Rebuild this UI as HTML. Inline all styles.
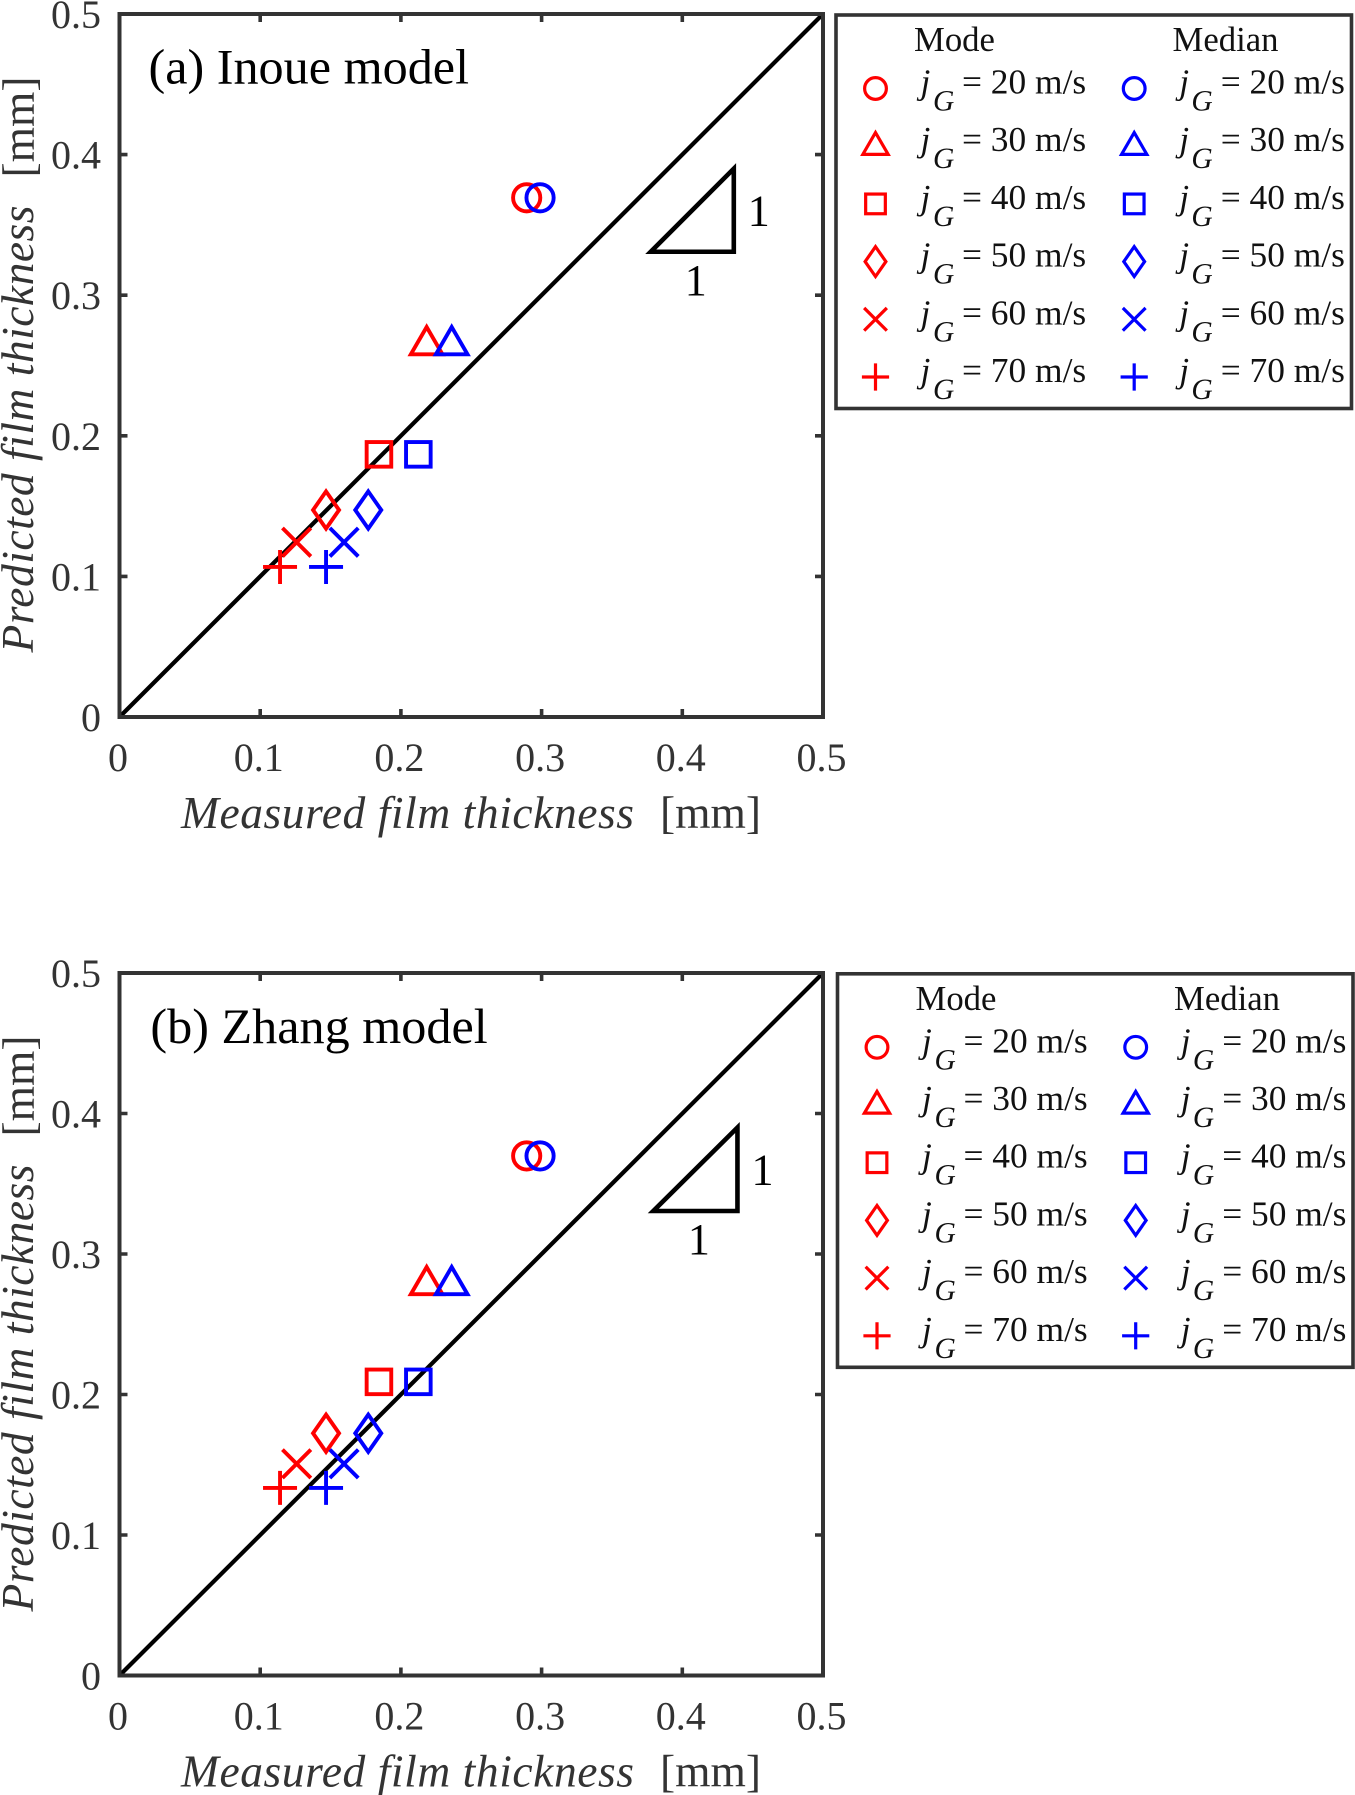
<!DOCTYPE html>
<html lang="en">
<head>
<meta charset="utf-8">
<title>Predicted vs measured film thickness</title>
<style>
html,body{margin:0;padding:0;background:#fff;}
svg{display:block;font-family:"Liberation Serif",serif;}
</style>
</head>
<body>
<svg id="figure" width="1355" height="1795" viewBox="0 0 1355 1795" xmlns="http://www.w3.org/2000/svg"></svg>
<script>
// ---- chart data ----
const categories = [20, 30, 40, 50, 60, 70];
const shapes = ['circle', 'triangle', 'square', 'diamond', 'cross', 'plus'];
const modeMeasured = [0.2894, 0.2183, 0.1844, 0.1468, 0.1259, 0.1141];
const medianMeasured = [0.2989, 0.2361, 0.2124, 0.1768, 0.1596, 0.1468];
const inouePredicted = [0.3693, 0.2688, 0.1868, 0.1472, 0.1243, 0.1067];
const zhangPredicted = [0.3698, 0.2822, 0.2090, 0.1724, 0.1507, 0.1335];
const tickValues = [0, 0.1, 0.2, 0.3, 0.4, 0.5];
const tickLabels = ['0', '0.1', '0.2', '0.3', '0.4', '0.5'];
const slopeXInoue = [0.3776, 0.4366];
const slopeYInoue = [0.3309, 0.39];
const slopeXZhang = [0.3794, 0.4392];
const slopeYZhang = [0.3306, 0.39];

const NS = 'http://www.w3.org/2000/svg';
const root = document.getElementById('figure');
const AXIS_COLOR = '#333333';

function el(tag, attrs, parent, text) {
  const node = document.createElementNS(NS, tag);
  for (const k in attrs) node.setAttribute(k, attrs[k]);
  if (text !== undefined) node.textContent = text;
  parent.appendChild(node);
  return node;
}

function marker(parent, shape, cx, cy, s, color, sw) {
  const common = {fill: 'none', stroke: color, 'stroke-width': sw};
  let node;
  if (shape === 'circle') {
    node = el('circle', Object.assign({cx: cx, cy: cy, r: 13.6 * s}, common), parent);
  } else if (shape === 'triangle') {
    const hw = 15.8 * s;
    const d = 'M' + (cx - hw) + ' ' + (cy + 15.2 * s) + 'L' + (cx + hw) + ' ' + (cy + 15.2 * s) + 'L' + cx + ' ' + (cy - 12 * s) + 'Z';
    node = el('path', Object.assign({d: d}, common), parent);
  } else if (shape === 'square') {
    const h = 12.3 * s;
    node = el('rect', Object.assign({x: cx - h, y: cy - h, width: 2 * h, height: 2 * h}, common), parent);
  } else if (shape === 'diamond') {
    const w = 13 * s, h = 18.6 * s;
    const d = 'M' + cx + ' ' + (cy - h) + 'L' + (cx + w) + ' ' + cy + 'L' + cx + ' ' + (cy + h) + 'L' + (cx - w) + ' ' + cy + 'Z';
    node = el('path', Object.assign({d: d}, common), parent);
  } else if (shape === 'cross') {
    const h = 14.2 * s;
    const d = 'M' + (cx - h) + ' ' + (cy - h) + 'L' + (cx + h) + ' ' + (cy + h) + 'M' + (cx - h) + ' ' + (cy + h) + 'L' + (cx + h) + ' ' + (cy - h);
    node = el('path', Object.assign({d: d}, common), parent);
  } else {
    const h = 17 * s;
    const d = 'M' + (cx - h) + ' ' + cy + 'L' + (cx + h) + ' ' + cy + 'M' + cx + ' ' + (cy - h) + 'L' + cx + ' ' + (cy + h);
    node = el('path', Object.assign({d: d}, common), parent);
  }
  return node;
}

function drawPanel(cfg) {
  const left = 119.5, right = 823;
  const top = cfg.top, bottom = cfg.bottom;
  const xs = v => left + (v / 0.5) * (right - left);
  const ys = v => bottom - (v / 0.5) * (bottom - top);

  const g = el('g', {}, root);
  
  

  // diagonal
  const diag = el('line', {x1: xs(0), y1: ys(0), x2: xs(0.5), y2: ys(0.5), stroke: '#000', 'stroke-width': 4.2}, g);
  
  

  // axes box
  const box = el('rect', {x: left, y: top, width: right - left, height: bottom - top, fill: 'none', stroke: AXIS_COLOR, 'stroke-width': 4}, g);
  
  

  // ticks and labels
  tickValues.forEach((v, i) => {
    const x = xs(v), y = ys(v);
    if (i > 0 && i < tickValues.length - 1) {
      const t = el('path', {d: 'M' + x + ' ' + bottom + 'v-8M' + x + ' ' + top + 'v8M' + left + ' ' + y + 'h8M' + right + ' ' + y + 'h-8', stroke: AXIS_COLOR, 'stroke-width': 3.6, fill: 'none'}, g);
      
      
    }
    const xl = el('text', {x: x - 1.5, y: bottom + 54, 'font-size': 40, fill: AXIS_COLOR, 'text-anchor': 'middle'}, g, tickLabels[i]);
    
    
    const yl = el('text', {x: 101, y: y + 14, 'font-size': 40, fill: AXIS_COLOR, 'text-anchor': 'end'}, g, tickLabels[i]);
    
    
  });

  // axis titles
  const xt = el('text', {x: 181, y: bottom + 111, 'font-size': 45.5, 'font-style': 'italic', fill: AXIS_COLOR, textLength: 453, lengthAdjust: 'spacing'}, g, 'Measured film thickness');
  
  
  const xu = el('text', {x: 660, y: bottom + 111, 'font-size': 45.5, fill: AXIS_COLOR}, g, '[mm]');
  
  
  const yt = el('text', {transform: 'translate(33 ' + (top + 638.5) + ') rotate(-90)', 'font-size': 45.5, 'font-style': 'italic', fill: AXIS_COLOR, textLength: 447, lengthAdjust: 'spacing'}, g, 'Predicted film thickness');
  
  
  const yu = el('text', {transform: 'translate(34 ' + (top + 163.5) + ') rotate(-90)', 'font-size': 45.5, fill: AXIS_COLOR}, g, '[mm]');
  
  

  // panel title
  const title = el('text', {x: cfg.titleX, y: cfg.titleY, 'font-size': 50.2, fill: '#000'}, g, cfg.title);
  
  

  // slope triangle
  const sx = cfg.slopeX, sy = cfg.slopeY;
  const tri = el('path', {d: 'M' + xs(sx[0]) + ' ' + ys(sy[0]) + 'L' + xs(sx[1]) + ' ' + ys(sy[0]) + 'L' + xs(sx[1]) + ' ' + ys(sy[1]) + 'Z', fill: 'none', stroke: '#000', 'stroke-width': 4.6}, g);
  
  
  const s1 = el('text', {x: xs(sx[1]) + 25, y: ys(sy[0]) - 26.5, 'font-size': 44, fill: '#000', 'text-anchor': 'middle'}, g, '1');
  
  
  const s2 = el('text', {x: (xs(sx[0]) + xs(sx[1])) / 2 + 3.5, y: ys(sy[0]) + 43, 'font-size': 44, fill: '#000', 'text-anchor': 'middle'}, g, '1');
  
  

  // series
  const series = [
    {label: 'mode', xv: modeMeasured, color: '#ff0000'},
    {label: 'median', xv: medianMeasured, color: '#0000ff'}
  ];
  series.forEach(ser => {
    shapes.forEach((shape, i) => {
      const m = marker(g, shape, xs(ser.xv[i]), ys(cfg.predicted[i]), 1, ser.color, 3.9);
      
      
    });
  });

  // legend
  const lg = el('g', {transform: 'translate(' + cfg.legendDx + ' ' + cfg.legendDy + ')'}, root);
  
  
  const lb = el('rect', {x: 836, y: 15, width: 515.5, height: 393.5, fill: '#fff', stroke: AXIS_COLOR, 'stroke-width': 3.6}, lg);
  
  
  const cols = [
    {head: 'Mode', mx: 875.5, jx: 920.5, gx: 933, tx: 962, color: '#ff0000', hx: 914},
    {head: 'Median', mx: 1134.2, jx: 1179.3, gx: 1191.4, tx: 1220.7, color: '#0000ff', hx: 1172.5}
  ];
  cols.forEach(c => {
    const h = el('text', {x: c.hx, y: 51, 'font-size': 34.7, fill: '#111'}, lg, c.head);
    
    
    categories.forEach((cat, i) => {
      const cy = 88.5 + 57.7 * i;
      const baseline = 93.5 + 57.7 * i;
      const mk = marker(lg, shapes[i], c.mx, shapes[i] === 'triangle' ? cy - 4 : cy, 0.8, c.color, 3.2);
      
      
      const j = el('text', {x: c.jx, y: baseline, 'font-size': 35.4, 'font-style': 'italic', fill: '#111'}, lg, 'j');
      
      
      const sub = el('text', {x: c.gx, y: baseline + 17, 'font-size': 29.5, 'font-style': 'italic', fill: '#111'}, lg, 'G');
      
      
      const t = el('text', {x: c.tx, y: baseline, 'font-size': 35.4, fill: '#111', 'xml:space': 'preserve'}, lg, '= ' + cat + ' m/s');
      
      
    });
  });
}

drawPanel({name: 'inoue', title: '(a) Inoue model', titleX: 148.5, titleY: 83.5, top: 14, bottom: 717, predicted: inouePredicted, slopeX: slopeXInoue, slopeY: slopeYInoue, legendDx: 0, legendDy: 0});
drawPanel({name: 'zhang', title: '(b) Zhang model', titleX: 150.4, titleY: 1042.8, top: 973, bottom: 1675.5, predicted: zhangPredicted, slopeX: slopeXZhang, slopeY: slopeYZhang, legendDx: 1.5, legendDy: 958.8});
</script>
</body>
</html>
